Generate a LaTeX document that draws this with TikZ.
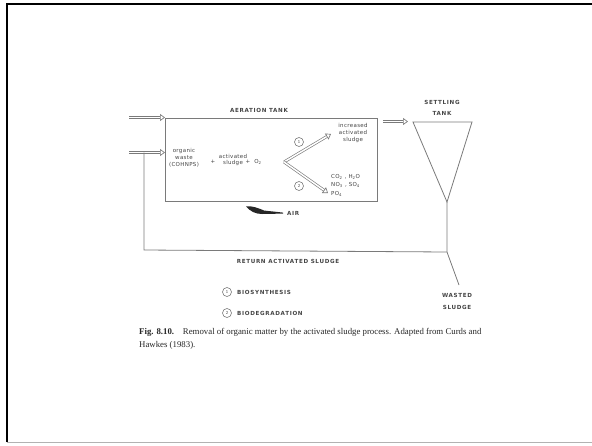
\documentclass[tikz,border=0pt]{standalone}
\usepackage{fontspec}
\setmainfont{Liberation Serif}
\newfontfamily\lab[LetterSpace=12]{DejaVu Sans}
\newfontfamily\labsm[LetterSpace=6]{DejaVu Sans}
\usetikzlibrary{arrows.meta}
\definecolor{ln}{HTML}{7a7a7a}
\definecolor{tx}{HTML}{444444}
\definecolor{cap}{HTML}{262626}
\tikzset{
  gline/.style={draw=ln, line width=0.8pt},
  hol/.style={draw=ln, double=white, double distance=1.5pt, line width=0.65pt,
    -{Triangle[open, length=5pt, width=7pt, line width=0.65pt]}},
  capl/.style={text=tx, inner sep=0pt, font=\lab\bfseries\fontsize{5.6}{6.5}\selectfont},
  sml/.style={text=tx, inner sep=0pt, align=center, font=\labsm\fontsize{5.5}{6.8}\selectfont},
  numc/.style={circle, draw=ln, line width=0.6pt, minimum size=9pt, inner sep=0pt, text=tx, font=\fontsize{4.5}{4.5}\selectfont\sffamily},
}
\begin{document}
\begin{tikzpicture}[x=1pt,y=-1pt]
\useasboundingbox (0,0) rectangle (592,445);
% slide frame
\draw[black, line width=2pt] (7,442) -- (7,4) -- (592,4);
\draw[gray!60, line width=0.8pt] (7,442) -- (592,442);

% aeration tank
\node[gline, draw, minimum width=212pt, minimum height=83pt, inner sep=0pt] (aer) at (271,160) {};
\node[capl] (aerl) at (259,110) {AERATION TANK};

% inlets
\coordinate (in1) at (129,117.5);
\coordinate (in1e) at (165,117.5);
\coordinate (in2) at (129,152.5);
\coordinate (in2e) at (165,152.5);
\draw[hol] (in1) -- (in1e);
\draw[hol] (in2) -- (in2e);

% reaction text
\node[sml] (ow) at (184,158) {organic\\waste\\(COHNPS)};
\node[sml] (p1) at (213,162) {+};
\node[sml] (as) at (233,160) {activated\\sludge};
\node[sml] (p2) at (248,162) {+};
\node[sml] (o2) at (258,162) {O\textsubscript{2}};
\coordinate (fork) at (284,162);
\coordinate (up) at (331,134);
\coordinate (dn) at (328,193);
\draw[hol] (fork) -- (up);
\draw[hol] (fork) -- (dn);
\node[numc] (c1) at (299,142) {1};
\node[numc] (c2) at (299,186) {2};
\node[sml] (inc) at (353,133) {increased\\activated\\sludge};
\node[sml, anchor=west] (co) at (331,177) {CO\textsubscript{2} , H\textsubscript{2}O};
\node[sml, anchor=west] (no) at (331,185) {NO\textsubscript{3} , SO\textsubscript{4}};
\node[sml, anchor=west] (po) at (331,193.5) {PO\textsubscript{4}};

% air
\fill[black!85] (246,206.5) .. controls (252,205.5) and (258,208) .. (264,210.5)
  -- (283,212.6) -- (283,213.6) -- (262,214) .. controls (255,214) and (250,211) .. cycle;
\node[capl, anchor=west] (air) at (287,213.5) {AIR};

% settling tank
\coordinate (stl) at (413,122);
\coordinate (str) at (472,122);
\coordinate (apex) at (447,202);
\coordinate (junc) at (447,252);
\coordinate (wend) at (459,285);
\draw[gline] (stl) -- (str) -- (apex) -- cycle;
\coordinate (toa) at (383,121.5);
\coordinate (tob) at (408,121.5);
\draw[hol] (toa) -- (tob);
\node[capl] (stt1) at (442,102) {SETTLING};
\node[capl] (stt2) at (442,113) {TANK};
\draw[gline] (apex) -- (junc) -- (wend);
\node[capl] (ws1) at (457,295) {WASTED};
\node[capl] (ws2) at (457,307) {SLUDGE};

% return line
\coordinate (rl) at (144,250);
\coordinate (rt) at (144,152.5);
\draw[gline] (junc) -- (rl) -- (rt);
\node[capl] (ret) at (288,261) {RETURN ACTIVATED SLUDGE};

% legend
\node[numc] (l1) at (227,292) {1};
\node[capl, anchor=west] (l1t) at (237,292) {BIOSYNTHESIS};
\node[numc] (l2) at (227,313) {2};
\node[capl, anchor=west] (l2t) at (237,313) {BIODEGRADATION};

% caption
\node[anchor=north west, align=left, inner sep=0pt, text=cap, font=\fontsize{8.8}{13.5}\selectfont] (capt) at (139,328)
  {\textbf{Fig. 8.10.}\quad Removal of organic matter by the activated sludge process. Adapted from Curds and\\Hawkes (1983).};
\end{tikzpicture}
\end{document}
